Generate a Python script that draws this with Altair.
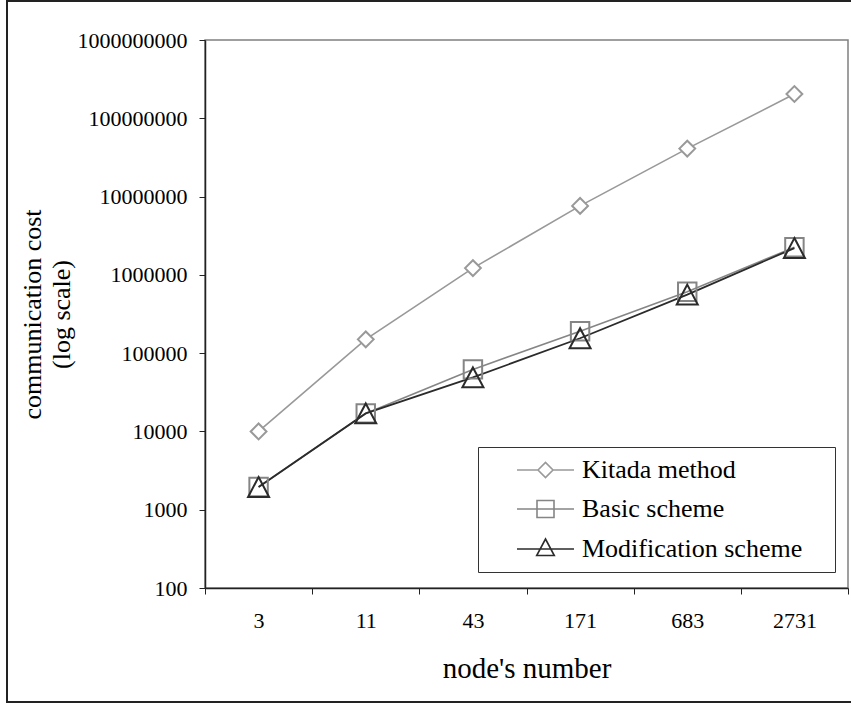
import altair as alt
import pandas as pd

# ---- data -------------------------------------------------------------
nodes = ["3", "11", "43", "171", "683", "2731"]
kitada = [10000, 150000, 1220000, 7600000, 41000000, 204000000]
basic = [1950, 17000, 62000, 190000, 610000, 2250000]
modification = [1950, 17000, 49000, 155000, 560000, 2200000]

series_names = ["Kitada method", "Basic scheme", "Modification scheme"]
series_colors = ["#999999", "#858585", "#2b2b2b"]
y_ticks = [100, 1000, 10000, 100000, 1000000, 10000000, 100000000, 1000000000]

FONT = "Liberation Serif"
W, H = 643, 548

rows = []
for name, vals in zip(series_names, [kitada, basic, modification]):
    for i, (n, v) in enumerate(zip(nodes, vals)):
        rows.append({"series": name, "node": n, "pos": i + 0.5, "cost": v})
df = pd.DataFrame(rows)

# ---- scales / axes ----------------------------------------------------
label_expr = "[" + ",".join(f"'{n}'" for n in nodes) + "][datum.value] || ''"

x_enc = alt.X(
    "pos:Q",
    scale=alt.Scale(domain=[0, len(nodes)], nice=False, zero=False),
    axis=alt.Axis(
        values=list(range(len(nodes) + 1)),
        labelExpr=label_expr,
        labelOffset=W / len(nodes) / 2,
        labelPadding=16.5,
        labelFont=FONT, labelFontSize=22, labelColor="black",
        labelFlush=False, labelOverlap=False,
        tickSize=6, tickColor="#222", domainColor="#222", domainWidth=1.5,
        grid=False,
        title="node's number",
        titleFont=FONT, titleFontSize=29, titleFontWeight="normal", titleColor="black",
        titleX=W / 2, titleY=89, titleAlign="center", titleBaseline="alphabetic",
    ),
)

y_enc = alt.Y(
    "cost:Q",
    scale=alt.Scale(type="log", domain=[100, 1000000000], nice=False),
    axis=alt.Axis(
        values=y_ticks, format="d",
        labelFont=FONT, labelFontSize=22, labelColor="black",
        labelPadding=12, labelFlush=False, labelOverlap=False,
        tickSize=6, tickColor="#222", domainColor="#222", domainWidth=1.5,
        grid=False,
        title=["communication cost", "(log scale)"],
        titleFont=FONT, titleFontSize=26, titleFontWeight="normal", titleColor="black",
        titleX=-165, titleY=H / 2, titleAngle=270, titleAlign="center",
        titleBaseline="alphabetic", titleLineHeight=29,
    ),
)

base = alt.Chart(df).encode(x=x_enc, y=y_enc)

def series(name):
    return base.transform_filter(alt.datum.series == name)

k_line = series("Kitada method").mark_line(color=series_colors[0], strokeWidth=1.6)
b_line = series("Basic scheme").mark_line(color=series_colors[1], strokeWidth=1.6)
m_line = series("Modification scheme").mark_line(color=series_colors[2], strokeWidth=1.8)

TRIANGLE = "M0,-0.95L1,0.95L-1,0.95Z"

k_pts = series("Kitada method").mark_point(
    shape="diamond", size=250, fill="white", fillOpacity=1,
    stroke=series_colors[0], strokeWidth=2, opacity=1)
b_pts = series("Basic scheme").mark_point(
    shape="square", size=340, stroke=series_colors[1], strokeWidth=2, opacity=1)
m_pts = series("Modification scheme").mark_point(
    shape=TRIANGLE, size=441, stroke=series_colors[2], strokeWidth=2, opacity=1)

# legend symbols: line segment with the series marker on it
legend_paths = [
    "M1.6,0H3.7M3.7,0L4.45,-0.75L5.2,0L4.45,0.75ZM5.2,0H7.3M32.0,0",
    "M1.6,0H7.3M3.6,-0.85H5.3V0.85H3.6ZM32.0,0",
    "M1.6,0H7.3M4.45,-1.0L5.33,0.65L3.57,0.65ZM32.0,0",
]
legend_props = dict(
    title=None, orient="none", legendX=273, legendY=407,
    padding=10, strokeColor="#333", fillColor="white",
    labelFont=FONT, labelFontSize=26, labelColor="black", labelLimit=500,
    labelOffset=68, rowPadding=13,
    symbolSize=400, symbolStrokeWidth=1.6,
)
legend_layer = alt.Chart(df).transform_filter("false").mark_point(opacity=1).encode(
    x="pos:Q",
    y="cost:Q",
    color=alt.Color("series:N",
                    scale=alt.Scale(domain=series_names, range=series_colors),
                    legend=alt.Legend(**legend_props)),
    shape=alt.Shape("series:N",
                    scale=alt.Scale(domain=series_names, range=legend_paths),
                    legend=alt.Legend(**legend_props)),
)

# outer frame around the whole figure
frame = alt.Chart(alt.Data(values=[{}])).mark_rect(
    filled=False, stroke="#222", strokeWidth=2
).encode(
    x=alt.value(-198), x2=alt.value(660),
    y=alt.value(-39), y2=alt.value(662),
)

chart = alt.layer(
    frame, k_line, b_line, m_line, k_pts, b_pts, m_pts, legend_layer
).properties(
    width=W, height=H,
    autosize=alt.AutoSizeParams(type="none"),
    padding={"left": 205, "top": 40, "right": 3, "bottom": 116},
    background="white",
).configure_view(
    stroke="#808080", strokeWidth=1.5
).configure_legend(
    labelFont=FONT
).configure_axis(
    labelFont=FONT, titleFont=FONT
)

chart.save("out.html", embed_options={"renderer": "svg", "actions": False})
